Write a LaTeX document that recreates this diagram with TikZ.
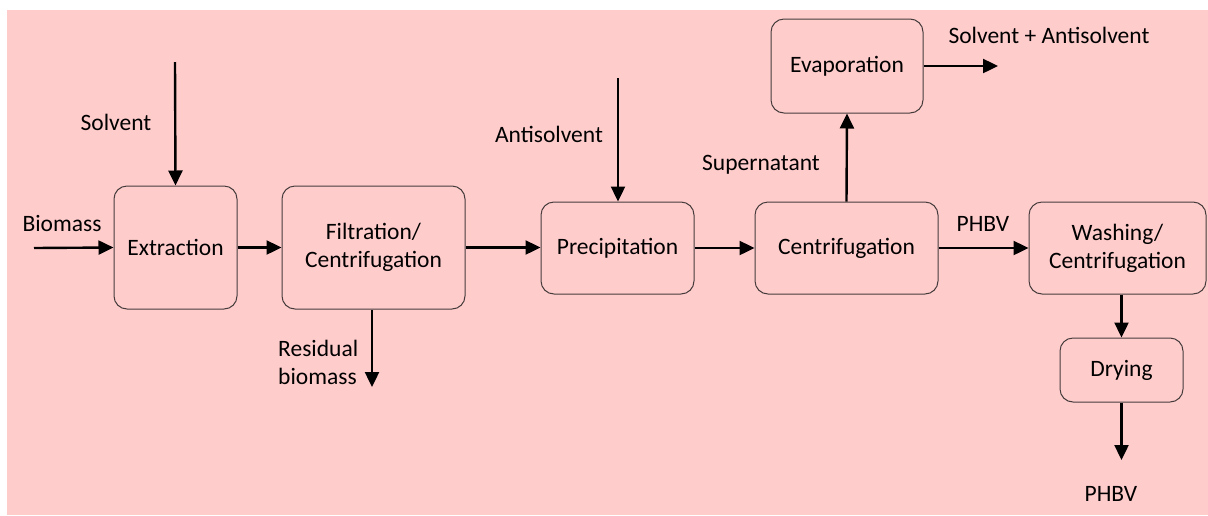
\documentclass[tikz,border=0pt]{standalone}
\usepackage{fontspec}
\setmainfont{Carlito}
\usetikzlibrary{arrows.meta}
\definecolor{bgpink}{RGB}{255,204,204}
\definecolor{boxline}{RGB}{70,60,60}
\begin{document}
\begin{tikzpicture}[x=1pt,y=-1pt,
  proc/.style={draw=boxline, line width=1pt, rounded corners=13pt, inner sep=0pt, align=center,
    font=\fontsize{23.5}{28}\selectfont},
  lbl/.style={inner sep=0pt, align=left, font=\fontsize{23.5}{28}\selectfont},
  flow/.style={line width=2.4pt, -{Triangle[length=15pt,width=14pt]}}]
\useasboundingbox (0,0) rectangle (1208,515);
\fill[white] (0,0) rectangle (1208,515);
\fill[bgpink] (7,10) rectangle (1208,515);
% process boxes
\node[proc, minimum width=123pt, minimum height=123pt] (ext) at (175.5,247.5) {Extraction};
\node[proc, minimum width=183pt, minimum height=123pt] (fil) at (373.5,247.5) {Filtration/\\Centrifugation};
\node[proc, minimum width=153pt, minimum height=92pt] (pre) at (617.5,248) {Precipitation};
\node[proc, minimum width=183pt, minimum height=92pt] (cen) at (846.5,248) {Centrifugation};
\node[proc, minimum width=152pt, minimum height=94pt] (eva) at (847,66) {Evaporation};
\node[proc, minimum width=177pt, minimum height=92pt] (was) at (1117.5,248) {Washing/\\Centrifugation};
\node[proc, minimum width=123pt, minimum height=64pt] (dry) at (1121.5,370) {Drying};
% free ends
\coordinate (bioin) at (34,248);
\coordinate (solin) at (175,62);
\coordinate (resout) at (372,387);
\coordinate (antin) at (618,78);
\coordinate (evaout) at (998,66);
\coordinate (phbvout) at (1121,460);
% labels
\node[lbl] (lbio) at (62,223) {Biomass};
\node[lbl] (lsol) at (116,122) {Solvent};
\node[lbl, anchor=west] (lres) at (278,362) {Residual\\biomass};
\node[lbl] (lant) at (549,134) {Antisolvent};
\node[lbl] (lsup) at (761,165) {Supernatant};
\node[lbl] (lsa) at (1049,35) {Solvent + Antisolvent};
\node[lbl] (lp1) at (983,224) {PHBV};
\node[lbl] (lp2) at (1111,494) {PHBV};
% connectors
\draw[flow] (bioin) -- (ext.west);
\draw[flow] (solin) -- (ext.north);
\draw[flow] (ext.east) -- (fil.west);
\draw[flow] (fil.south -| resout) -- (resout);
\draw[flow] (fil.east) -- (fil.east -| pre.west);
\draw[flow] (antin) -- (antin |- pre.north);
\draw[flow] (pre.east) -- (cen.west);
\draw[flow] (cen.north) -- (eva.south);
\draw[flow] (eva.east) -- (evaout);
\draw[flow] (cen.east) -- (was.west);
\draw[flow] (was.south -| dry.north) -- (dry.north);
\draw[flow] (dry.south) -- (dry.south |- phbvout);
\end{tikzpicture}
\end{document}
